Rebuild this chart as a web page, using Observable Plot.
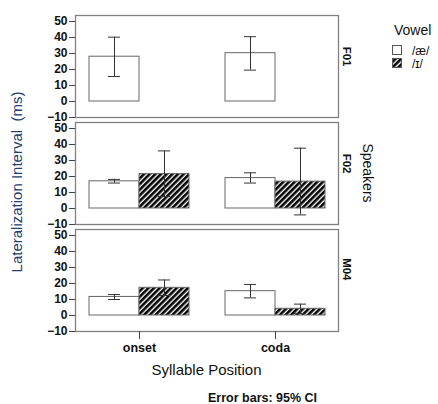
<!DOCTYPE html>
<html><head><meta charset="utf-8">
<script src="https://cdn.jsdelivr.net/npm/d3@7"></script>
<script src="https://cdn.jsdelivr.net/npm/@observablehq/plot@0.6"></script>
<style>body{margin:0;background:#fff}</style>
</head><body><div id="chart"></div>
<script>
const speakers = ["F01", "F02", "M04"];
const positions = ["onset", "coda"];
const vowels = ["/æ/", "/ɪ/"];
const rowSpeaker = ["F01","F01","F01","F01","F02","F02","F02","F02","M04","M04","M04","M04"];
const rowPosition = ["onset","onset","coda","coda","onset","onset","coda","coda","onset","onset","coda","coda"];
const rowVowel = ["/æ/","/ɪ/","/æ/","/ɪ/","/æ/","/ɪ/","/æ/","/ɪ/","/æ/","/ɪ/","/æ/","/ɪ/"];
const meanMs = [28.0, null, 30.2, null, 17.0, 21.5, 19.0, 16.8, 11.6, 17.3, 15.2, 4.2];
const ciLow  = [15.6, null, 19.6, null, 15.9, 7.5, 15.9, -4.0, 10.0, 12.5, 11.0, 1.3];
const ciHigh = [40.2, null, 40.5, null, 18.2, 36.0, 22.3, 37.7, 13.1, 22.2, 19.4, 7.1];
const yTicks = [-10, 0, 10, 20, 30, 40, 50];

const rows = meanMs.map((m, i) => ({speaker: rowSpeaker[i], position: rowPosition[i], vowel: rowVowel[i], mean: m, lo: ciLow[i], hi: ciHigh[i]}))
  .filter(d => d.mean != null);
const ae = rows.filter(d => d.vowel === vowels[0]);
const ih = rows.filter(d => d.vowel === vowels[1]);

const font = "Arial, 'Liberation Sans', sans-serif";
const errStroke = "#333";

const chart = Plot.plot({
  width: 438, height: 404,
  marginTop: 15, marginBottom: 73, marginLeft: 75, marginRight: 100,
  style: {fontFamily: font, background: "#fff", color: "#111"},
  x: {domain: positions, paddingInner: 0.265, paddingOuter: 0.096},
  y: {domain: [-10, 53.75]},
  fy: {domain: speakers, paddingInner: 0.047, paddingOuter: 0, axis: null},
  marks: [
    Plot.barY(ae, {x: "position", y: "mean", fy: "speaker", fill: "white", stroke: "#666", strokeWidth: 1, insetRight: 50}),
    Plot.barY(ih, {x: "position", y: "mean", fy: "speaker", fill: "url(#hatch)", stroke: "#666", strokeWidth: 1, insetLeft: 50}),
    Plot.ruleX(ae, {x: "position", y1: "lo", y2: "hi", fy: "speaker", dx: -25, stroke: errStroke}),
    Plot.ruleX(ih, {x: "position", y1: "lo", y2: "hi", fy: "speaker", dx: 25, stroke: errStroke}),
    Plot.tickY(ae, {x: "position", y: "hi", fy: "speaker", insetLeft: 19, insetRight: 69, stroke: errStroke}),
    Plot.tickY(ae, {x: "position", y: "lo", fy: "speaker", insetLeft: 19, insetRight: 69, stroke: errStroke}),
    Plot.tickY(ih, {x: "position", y: "hi", fy: "speaker", insetLeft: 69, insetRight: 19, stroke: errStroke}),
    Plot.tickY(ih, {x: "position", y: "lo", fy: "speaker", insetLeft: 69, insetRight: 19, stroke: errStroke}),
    Plot.frame({stroke: "#808080", strokeWidth: 1.3}),
    Plot.axisY({ticks: yTicks, tickSize: 6, tickPadding: 2, fontSize: 12, fontWeight: "bold", label: null, stroke: "#444"}),
    Plot.axisX({tickSize: 8, tickPadding: 4, fontSize: 12.5, fontWeight: "bold", label: null, stroke: "#444"}),
    Plot.text(speakers, {fy: d => d, text: d => d, frameAnchor: "right", dx: 8, rotate: 90, fontWeight: "bold", fontSize: 11.5})
  ]
});
document.getElementById("chart").appendChild(chart);

const svg = d3.select(chart);
const defs = svg.insert("defs", ":first-child");
const pat = defs.append("pattern").attr("id", "hatch").attr("patternUnits", "userSpaceOnUse")
  .attr("width", 4).attr("height", 4).attr("patternTransform", "rotate(45)");
pat.append("rect").attr("width", 4).attr("height", 4).attr("fill", "white");
pat.append("rect").attr("width", 2.6).attr("height", 4).attr("fill", "black");

const g = svg.append("g").attr("font-family", font);
g.append("text").attr("transform", "translate(22,182) rotate(-90)").attr("text-anchor", "middle")
  .attr("font-size", 15).attr("fill", "#25406e").text("Lateralization Interval  (ms)");
g.append("text").attr("transform", "translate(368,173) rotate(90)").attr("text-anchor", "middle")
  .attr("dy", "0.35em").attr("font-size", 14).attr("fill", "#111").text("Speakers");
g.append("text").attr("x", 206.5).attr("y", 375).attr("text-anchor", "middle")
  .attr("font-size", 15).attr("fill", "#111").text("Syllable Position");
g.append("text").attr("x", 208).attr("y", 402).attr("text-anchor", "start").attr("font-size", 12.5).attr("font-weight", "bold")
  .attr("fill", "#111").text("Error bars: 95% CI");
g.append("text").attr("x", 394).attr("y", 35).attr("text-anchor", "start").attr("font-size", 14).attr("fill", "#111").text("Vowel");
const legFills = ["white", "url(#hatch)"];
vowels.forEach((v, i) => {
  g.append("rect").attr("x", 392.5).attr("y", 45.5 + i * 13).attr("width", 9).attr("height", 9)
    .attr("fill", legFills[i]).attr("stroke", "#555");
  g.append("text").attr("x", 412).attr("y", 54.5 + i * 13).attr("text-anchor", "start").attr("font-size", 12).attr("fill", "#111").text(v);
});
</script>
</body></html>
